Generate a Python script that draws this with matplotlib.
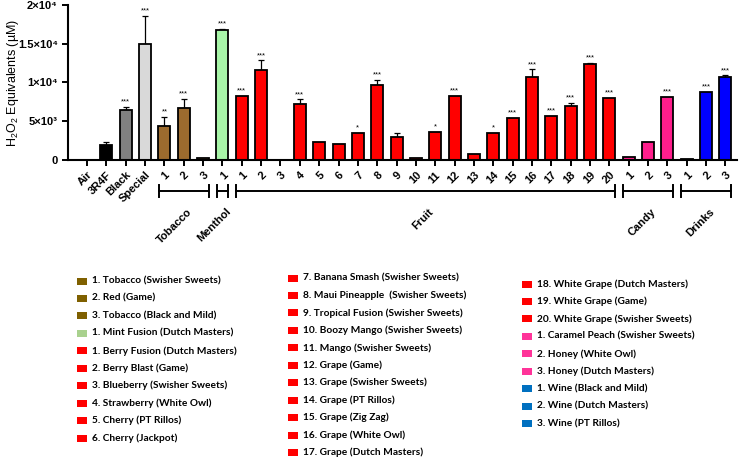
import numpy as np
import matplotlib
matplotlib.use("Agg")
import matplotlib.pyplot as plt
from matplotlib.patches import Rectangle

plt.rcParams['font.family'] = ['Liberation Sans', 'DejaVu Sans']
plt.rcParams['mathtext.fontset'] = 'custom'
plt.rcParams['mathtext.rm'] = 'Liberation Sans'
plt.rcParams['mathtext.bf'] = 'Liberation Sans:bold'

# ---- data ----
ref_labels = ['Air', '3R4F', 'Black', 'Special']
ref_values = [0, 1980, 6450, 14920]
ref_err = [0, 300, 430, 3660]
ref_sig = ['', '', '***', '***']

tobacco_values = [4390, 6750, 260]
tobacco_err = [1160, 1160, 0]
tobacco_sig = ['**', '***', '']

menthol_values = [16770]
menthol_err = [130]
menthol_sig = ['***']

fruit_values = [8300, 11650, 0, 7260, 2320, 2100, 3480, 9680, 3010, 300,
                3610, 8300, 770, 3520, 5460, 10750, 5720, 6970, 12420, 8000]
fruit_err = [0, 1210, 0, 570, 0, 0, 0, 640, 510, 0,
             0, 0, 0, 0, 0, 950, 0, 430, 130, 0]
fruit_sig = ['***', '***', '', '***', '', '', '*', '***', '', '',
             '*', '***', '', '*', '***', '***', '***', '***', '***', '***']

candy_values = [430, 2320, 8130]
candy_err = [0, 0, 0]
candy_sig = ['', '', '***']

drinks_values = [170, 8770, 10710]
drinks_err = [0, 0, 220]
drinks_sig = ['', '***', '***']

group_names = ['Tobacco', 'Menthol', 'Fruit', 'Candy', 'Drinks']
ytick_values = [0, 5000, 10000, 15000, 20000]
ytick_labels = ['0', '5×10³', '1×10⁴', '1.5×10⁴', '2×10⁴']

legend_tobacco = ['1. Tobacco (Swisher Sweets)', '2. Red (Game)', '3. Tobacco (Black and Mild)']
legend_menthol = ['1. Mint Fusion (Dutch Masters)']
legend_fruit = ['1. Berry Fusion (Dutch Masters)', '2. Berry Blast (Game)',
                '3. Blueberry (Swisher Sweets)', '4. Strawberry (White Owl)',
                '5. Cherry (PT Rillos)', '6. Cherry (Jackpot)',
                '7. Banana Smash (Swisher Sweets)', '8. Maui Pineapple  (Swisher Sweets)',
                '9. Tropical Fusion (Swisher Sweets)', '10. Boozy Mango (Swisher Sweets)',
                '11. Mango (Swisher Sweets)', '12. Grape (Game)',
                '13. Grape (Swisher Sweets)', '14. Grape (PT Rillos)',
                '15. Grape (Zig Zag)', '16. Grape (White Owl)',
                '17. Grape (Dutch Masters)', '18. White Grape (Dutch Masters)',
                '19. White Grape (Game)', '20. White Grape (Swisher Sweets)']
legend_candy = ['1. Caramel Peach (Swisher Sweets)', '2. Honey (White Owl)', '3. Honey (Dutch Masters)']
legend_drinks = ['1. Wine (Black and Mild)', '2. Wine (Dutch Masters)', '3. Wine (PT Rillos)']

# ---- colours ----
ref_colors = ['white', '#000000', '#808080', '#d9d9d9']
bar_group_colors = ['#9c6b2e', '#a8f5a8', '#ff0000', '#ff1e8c', '#0000ff']
leg_group_colors = ['#7f6000', '#a9d18e', '#ff0000', '#ff3399', '#0070c0']

groups_values = [tobacco_values, menthol_values, fruit_values, candy_values, drinks_values]
groups_err = [tobacco_err, menthol_err, fruit_err, candy_err, drinks_err]
groups_sig = [tobacco_sig, menthol_sig, fruit_sig, candy_sig, drinks_sig]

values = list(ref_values)
errs = list(ref_err)
sigs = list(ref_sig)
labels = list(ref_labels)
colors = list(ref_colors)
spans = []
for vals, er, sg, col in zip(groups_values, groups_err, groups_sig, bar_group_colors):
    start = len(values)
    values += vals
    errs += er
    sigs += sg
    labels += [str(i + 1) for i in range(len(vals))]
    colors += [col] * len(vals)
    spans.append((start, len(values) - 1))

x = np.arange(len(values))
values = np.array(values)
errs = np.array(errs)

fig = plt.figure(figsize=(7.4, 4.57), dpi=100)
ax = fig.add_axes([0.092, 0.65, 0.904, 0.339])

ax.bar(x, values, width=0.62, color=colors, edgecolor='black', linewidth=1.3, zorder=2)
mask = errs > 0
ax.errorbar(x[mask], values[mask], yerr=[np.zeros(mask.sum()), errs[mask]],
            fmt='none', ecolor='black', elinewidth=0.9, capsize=2.5, capthick=0.9, zorder=1)

for xi, v, e, s in zip(x, values, errs, sigs):
    if s:
        ax.annotate(s, (xi, v + e), xytext=(0, 1), textcoords='offset points',
                    ha='center', va='bottom', fontsize=5.5)

ax.set_ylim(0, 20000)
ax.set_xlim(-0.98, 33.6)
ax.set_yticks(ytick_values)
ax.set_yticklabels(ytick_labels, fontsize=8, fontweight='bold')
ax.set_xticks(x)
ax.set_xticklabels(labels, rotation=45, ha='right', va='top', rotation_mode='anchor',
                   fontsize=8, fontweight='bold')
ax.tick_params(axis='both', direction='out', length=4, width=1.4)
ax.tick_params(axis='x', pad=3)
for side in ['top', 'right']:
    ax.spines[side].set_visible(False)
for side in ['left', 'bottom']:
    ax.spines[side].set_linewidth(1.5)
ax.set_ylabel(r'H$_2$O$_2$ Equivalents (µM)', fontsize=9)
ax.yaxis.set_label_coords(-0.07, 0.5)

# group brackets below the tick labels
trans = ax.get_xaxis_transform()
br_y = -0.2
for name, (a, b) in zip(group_names, spans):
    x0, x1 = a - 0.28, b + 0.3
    ax.plot([x0, x1], [br_y, br_y], color='black', lw=1.4, transform=trans, clip_on=False)
    for xe in (x0, x1):
        ax.plot([xe, xe], [br_y - 0.04, br_y + 0.04], color='black', lw=1.4,
                transform=trans, clip_on=False)
    ax.text((x0 + x1) / 2 + 0.15, br_y - 0.1, name, transform=trans, rotation=45,
            ha='right', va='top', rotation_mode='anchor', fontsize=8, fontweight='bold')

# manual legend in three columns
leg_items = []
for names, col in zip([legend_tobacco, legend_menthol, legend_fruit, legend_candy, legend_drinks],
                      leg_group_colors):
    leg_items += [(n, col) for n in names]
columns = [leg_items[:10], leg_items[10:21], leg_items[21:]]
col_x = [77, 288, 522]      # pixel x of the squares
col_y0 = [281, 278, 284]    # pixel y of the first row
row_h = 17.45
W, H = 740, 457
for items, cx, cy in zip(columns, col_x, col_y0):
    for i, (name, col) in enumerate(items):
        yy = cy + i * row_h
        fig.patches.append(Rectangle((cx / W, 1 - (yy + 3.5) / H), 9.5 / W, 7 / H,
                                     transform=fig.transFigure, facecolor=col,
                                     edgecolor='none'))
        fig.text((cx + 15) / W, 1 - yy / H, name, fontsize=7.3, fontweight='bold',
                 family=['Lato', 'DejaVu Sans'], va='center', ha='left', color='black')

fig.savefig('out.png', dpi=100)
